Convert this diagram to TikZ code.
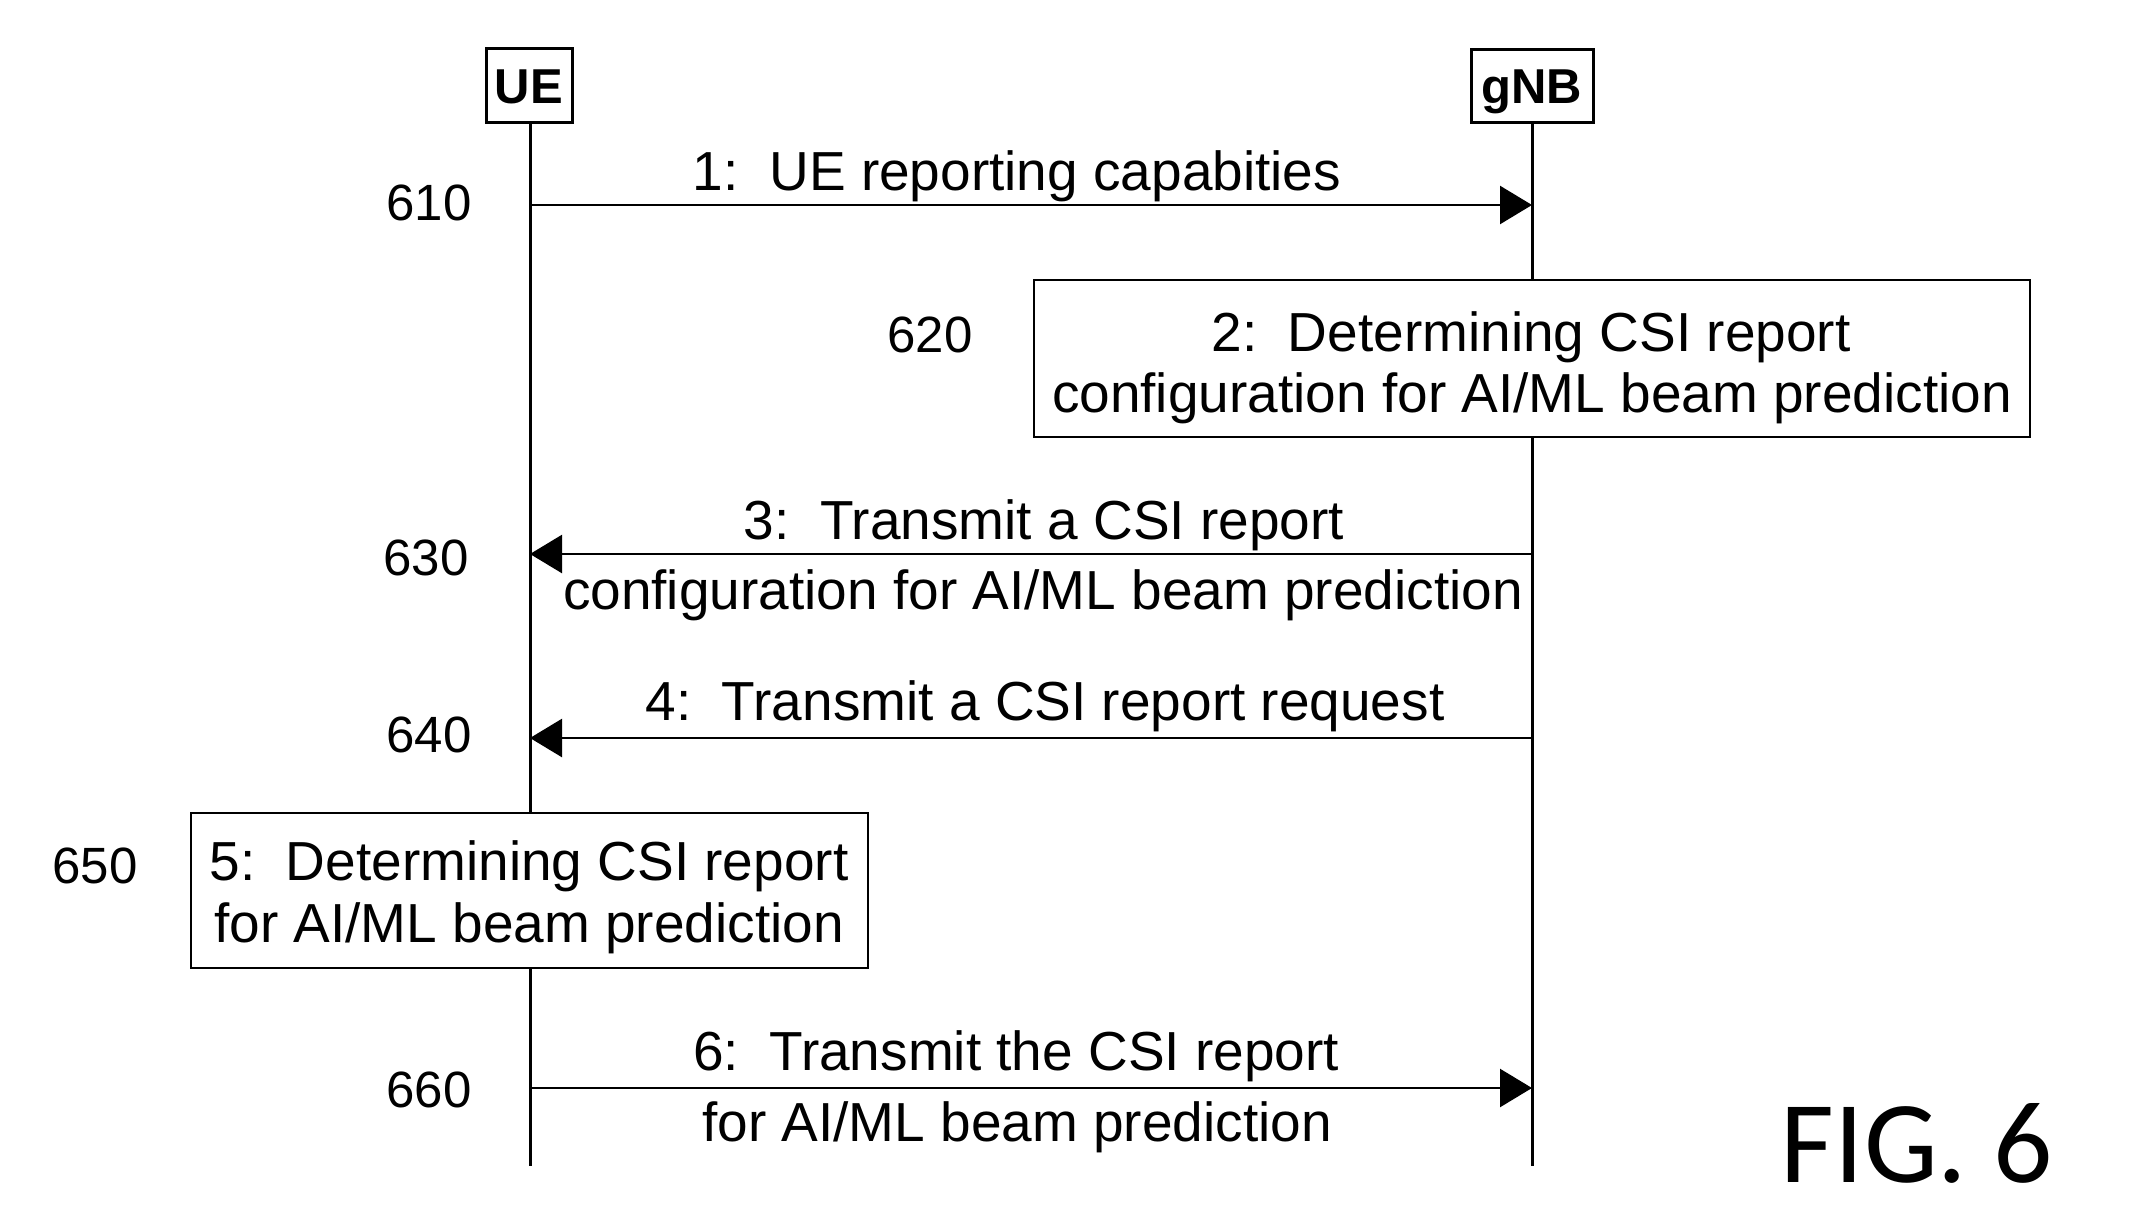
\documentclass[tikz,border=0pt]{standalone}
\usepackage{fontspec}
\setmainfont{Liberation Sans}
\newfontfamily\figfont{Carlito}
\usetikzlibrary{arrows.meta}
\begin{document}
\begin{tikzpicture}[x=1pt,y=-1pt,
  txt/.style={font=\fontsize{55pt}{62pt}\selectfont, inner sep=0pt, anchor=base},
  numtxt/.style={font=\fontsize{51pt}{58pt}\selectfont, inner sep=0pt, anchor=base},
  head/.style={draw, line width=3pt, fill=white, font=\fontsize{49pt}{55pt}\selectfont\bfseries, minimum height=73pt, inner sep=0pt, text height=35pt, text depth=0pt},
  procbox/.style={draw, line width=2.5pt, fill=white, inner sep=0pt},
  life/.style={line width=3pt},
  msg/.style={line width=2.5pt, -{Triangle[length=32pt,width=38pt]}},
]
\useasboundingbox (0,0) rectangle (2156,1231);

% heads
\node[head, minimum width=86pt] (ue) at (529,85.5) {UE};
\node[head, minimum width=122pt] (gnb) at (1532,86) {gNB};

% lifelines
\coordinate (ueEnd) at (530,1166);
\coordinate (gnbEnd) at (1532,1166);
\draw[life] (ue.south -| ueEnd) -- (ueEnd);
\draw[life] (gnb.south -| gnbEnd) -- (gnbEnd);

% message 1
\coordinate (m1u) at (530,205);
\coordinate (m1g) at (1532,205);
\draw[msg] (m1u) -- (m1g);
\node[txt] (l1) at (1017,190) {1:\ \ UE reporting capabities};
\node[numtxt] (n610) at (429,220) {610};

% box 2
\node[procbox, minimum width=996pt, minimum height=157pt] (b2) at (1532,358.5) {};
\node[txt] (t2a) at (1531,351) {2:\ \ Determining CSI report};
\node[txt] (t2b) at (1532,412) {configuration for AI/ML beam prediction};
\node[numtxt] (n620) at (930,352) {620};

% message 3
\coordinate (m3g) at (1532,554);
\coordinate (m3u) at (530,554);
\draw[msg] (m3g) -- (m3u);
\node[txt] (l3a) at (1044,539) {3:\ \ Transmit a CSI report};
\node[txt] (l3b) at (1043,609) {configuration for AI/ML beam prediction};
\node[numtxt] (n630) at (426,575) {630};

% message 4
\coordinate (m4g) at (1532,738);
\coordinate (m4u) at (530,738);
\draw[msg] (m4g) -- (m4u);
\node[txt] (l4) at (1045,720) {4:\ \ Transmit a CSI report request};
\node[numtxt] (n640) at (429,752) {640};

% box 5
\node[procbox, minimum width=677pt, minimum height=155pt] (b5) at (529.5,890.5) {};
\node[txt] (t5a) at (529,880) {5:\ \ Determining CSI report};
\node[txt] (t5b) at (529,942) {for AI/ML beam prediction};
\node[numtxt] (n650) at (95,883) {650};

% message 6
\coordinate (m6u) at (530,1088);
\coordinate (m6g) at (1532,1088);
\draw[msg] (m6u) -- (m6g);
\node[txt] (l6a) at (1016,1070) {6:\ \ Transmit the CSI report};
\node[txt] (l6b) at (1017,1141) {for AI/ML beam prediction};
\node[numtxt] (n660) at (429,1107) {660};

% figure label
\node[inner sep=0pt, anchor=base, font=\figfont\fontsize{117pt}{127pt}\selectfont] (fig) at (1917,1182) {FIG. 6};
\end{tikzpicture}
\end{document}
